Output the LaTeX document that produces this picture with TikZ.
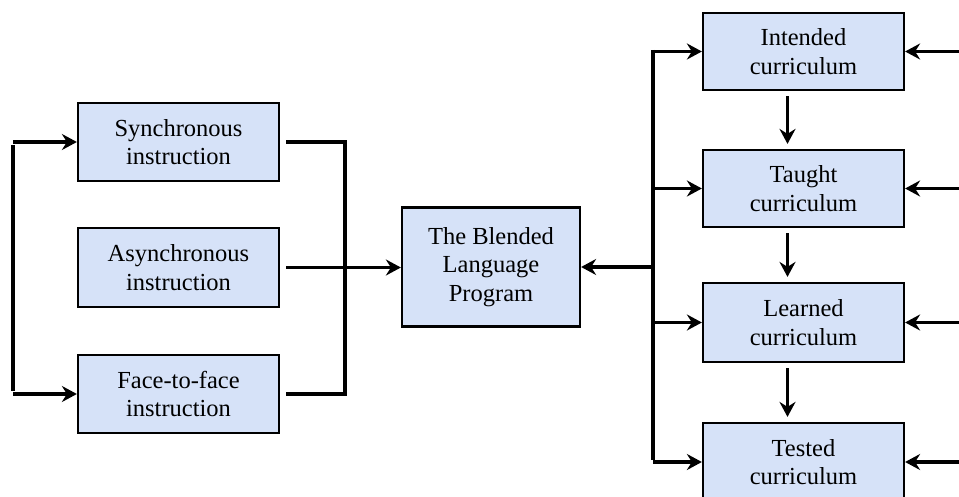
\documentclass[tikz,border=0pt]{standalone}
\usepackage{fontspec}
\setmainfont{Liberation Serif}
\usetikzlibrary{arrows.meta}
\definecolor{boxfill}{RGB}{214,226,248}
\tikzset{
  blk/.style={draw=black, line width=2.2pt, fill=boxfill, align=center,
    font=\fontsize{24.5}{28.5}\selectfont, inner sep=0pt, text=black},
  conn/.style={line width=3.3pt, black},
  arr/.style={conn, -{Stealth[length=15pt,width=16pt,inset=5pt]}}
}
\begin{document}
\begin{tikzpicture}[x=1pt,y=-1pt]
\useasboundingbox (0,0) rectangle (959,497);
\clip (0,0) rectangle (959,497);
% left column
\node[blk, minimum width=201pt, minimum height=78pt] (sync) at (178.5,142) {Synchronous\\instruction};
\node[blk, minimum width=201pt, minimum height=79pt] (async) at (178.5,267.5) {Asynchronous\\instruction};
\node[blk, minimum width=201pt, minimum height=78pt] (face) at (178.5,394) {Face-to-face\\instruction};
% centre
\node[blk, minimum width=178pt, minimum height=119pt] (blend) at (491,267) {The Blended\\Language\\Program};
% right column
\node[blk, minimum width=201pt, minimum height=77pt] (intended) at (803.5,51.5) {Intended\\curriculum};
\node[blk, minimum width=201pt, minimum height=77pt] (taught) at (803.5,188.5) {Taught\\curriculum};
\node[blk, minimum width=201pt, minimum height=79pt] (learned) at (803.5,322.5) {Learned\\curriculum};
\node[blk, minimum width=201pt, minimum height=78pt] (tested) at (803.5,462) {Tested\\curriculum};
% left feed
\coordinate (L1) at (13,142);
\coordinate (L2) at (13,394);
\draw[conn] (13,145) -- (13,391);
\draw[arr] (L1) -- (sync.west);
\draw[arr] (L2) -- (face.west);
% right bracket
\coordinate (B1) at (345,142);
\coordinate (B2) at (345,394);
\draw[conn] ([xshift=6pt]sync.east) -- (B1) -- (B2) -- ([xshift=6pt]face.east);
\draw[arr] ([xshift=6pt]async.east) -- (blend.west |- async.east);
% right feed
\coordinate (V0) at (653,267);
\coordinate (V1) at (653,51.5);
\coordinate (V2) at (653,188.5);
\coordinate (V3) at (653,322.5);
\coordinate (V4) at (653,462);
\draw[conn] (653,50) -- (653,460);
\draw[arr] (V0) -- (blend.east);
\draw[arr] (V1) -- (intended.west);
\draw[arr] (V2) -- (taught.west);
\draw[arr] (V3) -- (learned.west);
\draw[arr] (V4) -- (tested.west);
% downward chain
\draw[arr] ([xshift=-16pt,yshift=-5pt]intended.south) -- ([xshift=-16pt,yshift=5pt]taught.north);
\draw[arr] ([xshift=-16pt,yshift=-5pt]taught.south) -- ([xshift=-16pt,yshift=5pt]learned.north);
\draw[arr] ([xshift=-16pt,yshift=-5pt]learned.south) -- ([xshift=-16pt,yshift=5pt]tested.north);
% feeds from right edge
\coordinate (E1) at (962,51.5);
\coordinate (E2) at (962,188.5);
\coordinate (E3) at (962,322.5);
\coordinate (E4) at (962,462);
\draw[arr] (E1) -- (intended.east);
\draw[arr] (E2) -- (taught.east);
\draw[arr] (E3) -- (learned.east);
\draw[arr] (E4) -- (tested.east);
\end{tikzpicture}
\end{document}
